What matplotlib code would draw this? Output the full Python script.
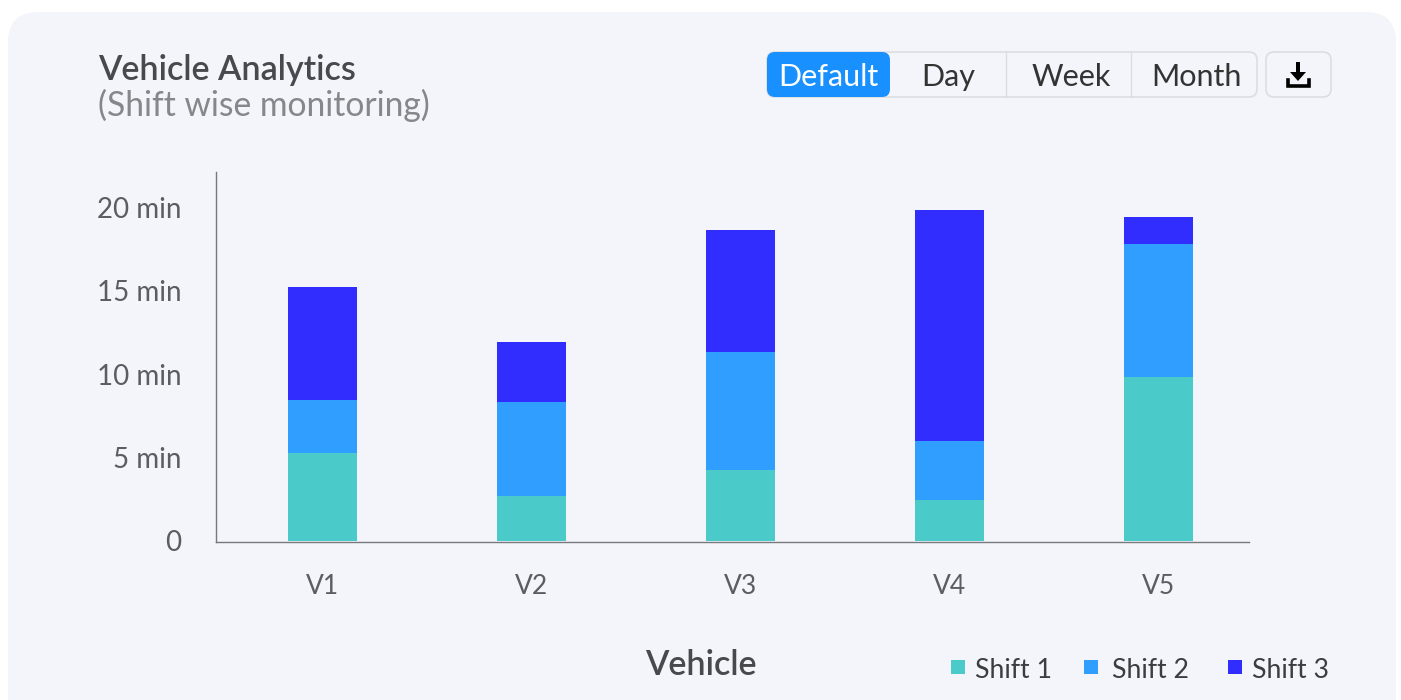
import matplotlib
matplotlib.use('Agg')
import numpy as np
import matplotlib.pyplot as plt
from matplotlib.patches import FancyBboxPatch, Rectangle

plt.rcParams['font.family'] = ['Lato', 'DejaVu Sans']

vehicles = ['V1', 'V2', 'V3', 'V4', 'V5']
shift1 = [5.3, 2.7, 4.25, 2.45, 9.8]
shift2 = [3.15, 5.6, 7.05, 3.55, 8.0]
shift3 = [6.75, 3.6, 7.3, 13.8, 1.6]
yticks = [0, 5, 10, 15, 20]
ylabels = ['0', '5 min', '10 min', '15 min', '20 min']
shift_names = ['Shift 1', 'Shift 2', 'Shift 3']
colors = ['#4acbc9', '#309efe', '#322dff']
buttons = ['Default', 'Day', 'Week', 'Month']

W, H = 1401, 700
fig = plt.figure(figsize=(W / 100, H / 100), dpi=100, facecolor='white')

# full figure layer in pixels for the card and the controls
bg = fig.add_axes([0, 0, 1, 1])
bg.set_xlim(0, W)
bg.set_ylim(H, 0)
bg.axis('off')
bg.add_patch(FancyBboxPatch((8 + 30, 12 + 30), 1388 - 60, 700 - 30, boxstyle='round,pad=30',
                            fc='#f4f5fa', ec='none'))

bg.text(98, 70, 'Vehicle Analytics', fontsize=24.6, fontweight='semibold', color='#48494c', va='center')
bg.text(98, 105, '(Shift wise monitoring)', fontsize=24.2, color='#86878b', va='center')

# button group
bg.add_patch(FancyBboxPatch((775, 60), 474, 29, boxstyle='round,pad=8', fc='none', ec='#dcdde1', lw=1.2))
for x in [1006, 1131]:
    bg.plot([x, x], [52, 97], color='#dcdde1', lw=1)
bg.add_patch(FancyBboxPatch((775, 60), 107, 29, boxstyle='round,pad=8', fc='#1890ff', ec='none'))
for name, x, c in zip(buttons, [828, 948, 1071, 1196], ['white', '#333333', '#333333', '#333333']):
    bg.text(x, 77, name, fontsize=22, color=c, ha='center', va='center')

# download button
bg.add_patch(FancyBboxPatch((1274, 60), 49, 29, boxstyle='round,pad=8', fc='none', ec='#dcdde1', lw=1.2))
bg.add_patch(Rectangle((1296, 62), 4, 13, fc='black', ec='none'))
bg.fill([1290, 1306, 1298], [72, 72, 81], color='black', lw=0)
bg.plot([1288, 1288, 1309, 1309], [80, 86, 86, 80], color='black', lw=2.6, solid_joinstyle='miter')

ax = fig.add_axes([216 / W, 1 - 542 / H, (1249 - 216) / W, (542 - 172) / H])
ax.patch.set_alpha(0)
x = np.arange(len(vehicles))
s1 = np.array(shift1)
s2 = np.array(shift2)
s3 = np.array(shift3)
ax.bar(x, s1, 0.33, color=colors[0])
ax.bar(x, s2, 0.33, bottom=s1, color=colors[1])
ax.bar(x, s3, 0.33, bottom=s1 + s2, color=colors[2])
ax.set_xlim(-0.51, 4.433)
ax.set_ylim(-0.06, 22.1)
ax.set_xticks(x)
ax.set_xticklabels(vehicles)
ax.set_yticks(yticks)
ax.set_yticklabels(ylabels)
ax.tick_params(axis='x', length=0, labelsize=19, labelcolor='#5c5d61', pad=23)
ax.tick_params(axis='y', length=0, labelsize=20, labelcolor='#5c5d61', pad=25)
for label in ax.get_xticklabels():
    label.set_x(label.get_position()[0])
for s in ['top', 'right']:
    ax.spines[s].set_visible(False)
for s in ['left', 'bottom']:
    ax.spines[s].set_color('#77787c')
    ax.spines[s].set_linewidth(1)

bg.text(701, 665, 'Vehicle', fontsize=24.6, fontweight='semibold', color='#48494c', ha='center', va='center')

# legend
for name, c, sx, tx in zip(shift_names, colors, [951, 1084, 1228], [975, 1112, 1252]):
    bg.add_patch(Rectangle((sx, 660), 14, 14, fc=c, ec='none'))
    bg.text(tx, 670, name, fontsize=19.2, color='#3c3d40', va='center')

fig.savefig('out.png', dpi=100)
